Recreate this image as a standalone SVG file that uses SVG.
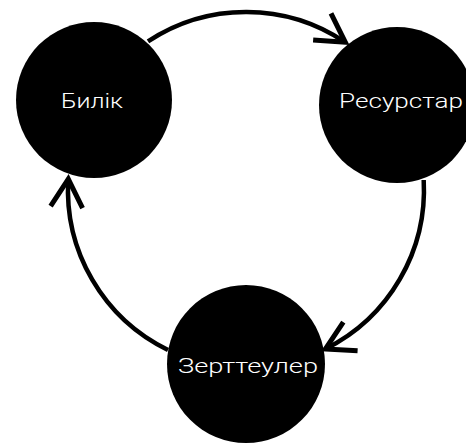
<svg xmlns="http://www.w3.org/2000/svg" width="466" height="445" viewBox="0 0 466 445">
<style>
.node circle{fill:#000}
.node text{fill:#fff;font-family:Roboto,"Liberation Sans",Arial,sans-serif;font-weight:300;font-size:21px;text-anchor:middle}
.conn path{fill:none;stroke:#000;stroke-width:4.5;marker-end:url(#arr)}
</style>
<defs>
<marker id="arr" markerUnits="userSpaceOnUse" viewBox="-40 -25 50 50" markerWidth="50" markerHeight="50" refX="0" refY="0" orient="auto" overflow="visible">
<path d="M-28,-16 L0,0 L-28,16" fill="none" stroke="#000" stroke-width="5" stroke-linejoin="miter"/>
</marker>
</defs>
<g id="connectors" class="conn">
<path d="M148,41.4 A178,178 0 0 1 345.3,42.3"/>
<path d="M423.7,180 A178,178 0 0 1 325.4,349"/>
<path d="M168,350 A178,178 0 0 1 68.3,179.1"/>
</g>
<g id="node-bilik" class="node">
<circle cx="94" cy="100" r="78"/>
<text x="92" y="108" textLength="62" lengthAdjust="spacingAndGlyphs">Билік</text>
</g>
<g id="node-resurstar" class="node">
<circle cx="397" cy="105" r="78"/>
<text x="401" y="108" textLength="124" lengthAdjust="spacingAndGlyphs">Ресурстар</text>
</g>
<g id="node-zertteuler" class="node">
<circle cx="246" cy="364" r="79"/>
<text x="248" y="373" textLength="140" lengthAdjust="spacingAndGlyphs">Зерттеулер</text>
</g>
</svg>
